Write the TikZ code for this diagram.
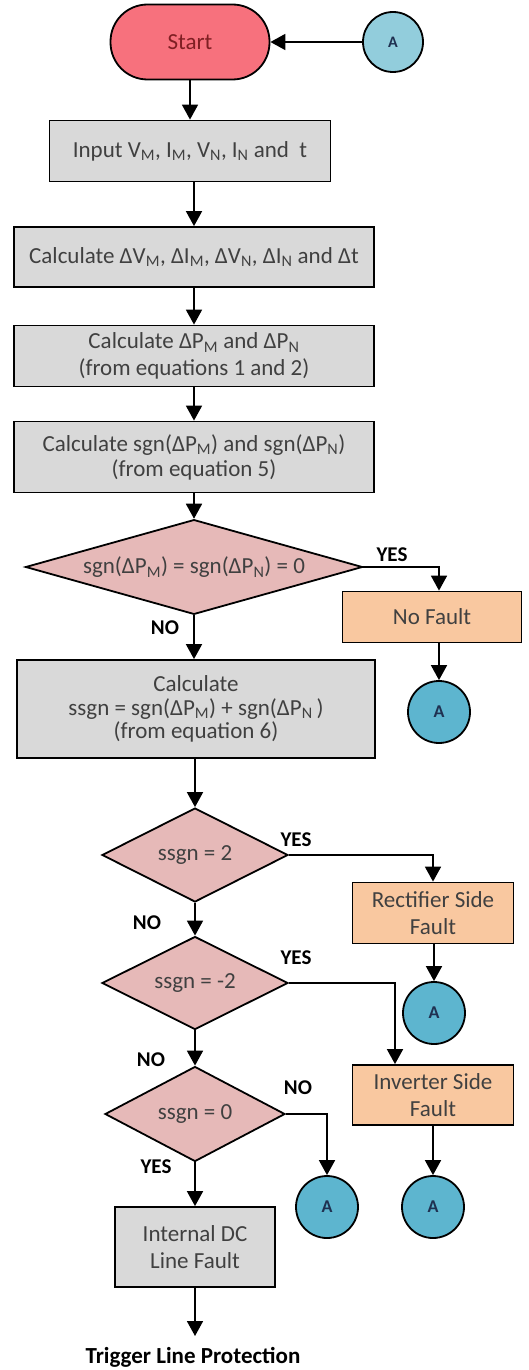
\documentclass[tikz,border=0pt]{standalone}
\usepackage{fontspec}
\setmainfont{Carlito}
\usetikzlibrary{shapes.geometric,arrows.meta}
\definecolor{startred}{HTML}{F7717D}
\definecolor{starttext}{HTML}{7F1F23}
\definecolor{boxgray}{HTML}{D9D9D9}
\definecolor{decpink}{HTML}{E6B9B8}
\definecolor{resorange}{HTML}{F9C8A0}
\definecolor{connblue}{HTML}{5DB5CF}
\definecolor{connlight}{HTML}{92CDDC}
\definecolor{conntext}{HTML}{1F3050}
\definecolor{txtgray}{HTML}{404040}
\newcommand{\sbs}[1]{\textsubscript{#1}}
\begin{document}
\begin{tikzpicture}[x=1pt,y=-1pt,
  base/.style={draw=black, line width=1.8pt, font=\fontsize{23}{27}\selectfont, text=txtgray, align=center, inner sep=0pt},
  proc/.style={base, rectangle, fill=boxgray},
  term/.style={base, rectangle, rounded corners=37pt, fill=startred, text=starttext},
  dec/.style={base, diamond, aspect=3, fill=decpink},
  res/.style={base, rectangle, fill=resorange},
  conn/.style={base, circle, fill=connblue, minimum size=62pt, font=\fontsize{18}{20}\selectfont\bfseries, text=conntext},
  lbl/.style={font=\fontsize{21}{24}\selectfont\bfseries, text=black, inner sep=0pt},
  arr/.style={line width=1.8pt, -{Triangle[length=15pt,width=16pt]}},
  ln/.style={line width=1.8pt}]
\useasboundingbox (0,0) rectangle (528,1370);
% nodes
\node[term, minimum width=159pt, minimum height=75pt] (start) at (190,42) {Start};
\node[conn, fill=connlight, minimum size=60pt, font=\fontsize{16}{20}\selectfont\bfseries] (a0) at (393,42) {A};
\node[proc, minimum width=281pt, minimum height=61pt] (input) at (190,151) {Input V\sbs{M}, I\sbs{M}, V\sbs{N}, I\sbs{N} and~~t};
\node[proc, minimum width=360pt, minimum height=60pt] (dv) at (194,257) {Calculate ΔV\sbs{M}, ΔI\sbs{M}, ΔV\sbs{N}, ΔI\sbs{N} and Δt};
\node[proc, minimum width=360pt, minimum height=61pt] (dp) at (194,356) {Calculate ΔP\sbs{M} and ΔP\sbs{N}\\(from equations 1 and 2)};
\node[proc, minimum width=360pt, minimum height=71pt, font=\fontsize{23}{25}\selectfont] (sg) at (194,457) {Calculate sgn(ΔP\sbs{M}) and sgn(ΔP\sbs{N})\\(from equation 5)};
\node[dec, minimum width=337pt, minimum height=89pt] (d1) at (194,567) {sgn(ΔP\sbs{M}) = sgn(ΔP\sbs{N}) = 0};
\node[res, minimum width=179pt, minimum height=51pt] (nf) at (432,617) {No Fault};
\node[conn] (a1) at (439,712) {A};
\node[proc, minimum width=358pt, minimum height=98pt, font=\fontsize{23}{23.5}\selectfont] (ss) at (196,709) {Calculate\\ssgn = sgn(ΔP\sbs{M}) + sgn(ΔP\sbs{N}\,)\\(from equation 6)};
\node[dec, minimum width=186pt, minimum height=94pt] (d2) at (195,855) {ssgn = 2};
\node[res, minimum width=161pt, minimum height=61pt] (rf) at (433,913) {Rectifier Side\\Fault};
\node[conn] (a2) at (434,1013) {A};
\node[dec, minimum width=186pt, minimum height=93pt] (d3) at (195,983) {ssgn = -2};
\node[res, minimum width=161pt, minimum height=60pt] (inv) at (433,1095) {Inverter Side\\Fault};
\node[conn] (a3) at (433,1207) {A};
\node[dec, minimum width=180pt, minimum height=95pt] (d4) at (195,1114) {ssgn = 0};
\node[conn] (a4) at (327,1207) {A};
\node[proc, minimum width=160pt, minimum height=80pt] (idc) at (195,1247) {Internal DC\\Line Fault};
\node[lbl, font=\fontsize{23}{26}\selectfont\bfseries, anchor=base] (trig) at (193,1363) {Trigger Line Protection};
\coordinate (trigtop) at (195,1336);
% labels
\node[lbl] (y1) at (392,555) {YES};
\node[lbl] (n1) at (165,628) {NO};
\node[lbl] (y2) at (296,840) {YES};
\node[lbl] (n2) at (147,923) {NO};
\node[lbl] (y3) at (296,958) {YES};
\node[lbl] (n3) at (151,1060) {NO};
\node[lbl] (n4) at (298,1088) {NO};
\node[lbl] (y4) at (156,1167) {YES};
% connectors
\draw[arr] (a0) -- (start);
\draw[arr] (start) -- (input);
\draw[arr] (input.south -| dv.north) -- (dv.north);
\draw[arr] (dv) -- (dp);
\draw[arr] (dp) -- (sg);
\draw[arr] (sg) -- (d1);
\draw[arr] (d1.east) -| ([xshift=7pt]nf.north);
\draw[arr] ([xshift=7pt]nf.south) -- (a1.north);
\draw[arr] (d1.south) -- (d1.south |- ss.north);
\draw[arr] (ss.south -| d2.north) -- (d2.north);
\draw[arr] (d2.east) -| (rf.north);
\draw[arr] (rf.south -| a2.north) -- (a2.north);
\draw[arr] (d2) -- (d3);
\draw[arr] (d3.east) -| ([xshift=-38pt]inv.north);
\draw[arr] (inv) -- (a3);
\draw[arr] (d3) -- (d4);
\draw[arr] (d4.east) -| (a4.north);
\draw[arr] (d4) -- (idc);
\draw[arr] (idc.south) -- (trigtop);
\end{tikzpicture}
\end{document}
